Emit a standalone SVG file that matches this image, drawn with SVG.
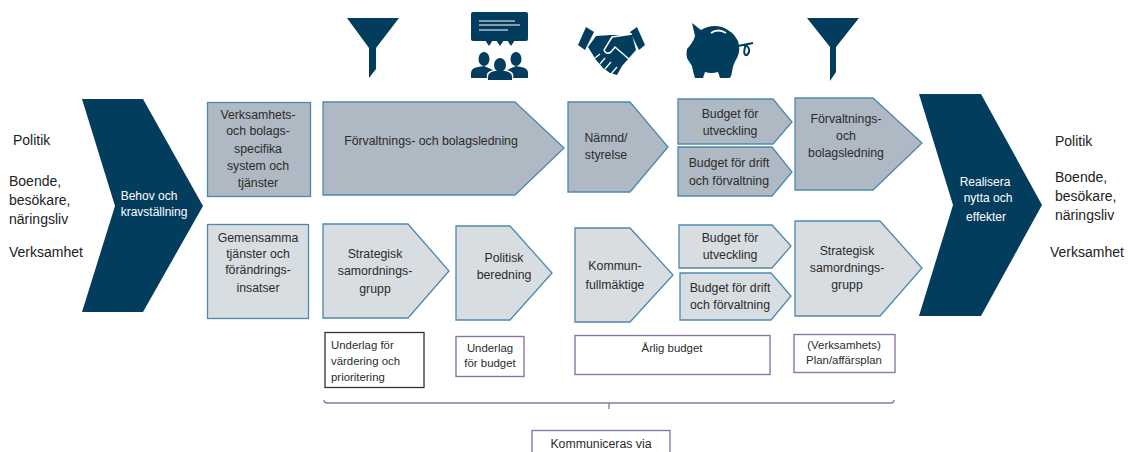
<svg xmlns="http://www.w3.org/2000/svg" width="1128" height="452" viewBox="0 0 1128 452">
<style>
text{font-family:"Liberation Sans",Arial,sans-serif;font-size:12.3px;fill:#2b2b2b;text-anchor:middle}
.side{font-size:14px;text-anchor:start;fill:#222}
.small{font-size:11.4px}
.w{fill:#fff;font-size:12px}
.dark{fill:#033d5e;stroke:none}
.mid{fill:#afb9c3;stroke:#4d89ae;stroke-width:1.3}
.light{fill:#d8dde2;stroke:#4d89ae;stroke-width:1.3}
.note{fill:#fff;stroke:#8878a8;stroke-width:1.4}
.ic{fill:#033d5e;stroke:none}
.icw{fill:none;stroke:#fff;stroke-width:1.5}
</style>
<g id="left-labels">
<text class="side" x="13" y="145">Politik</text>
<text class="side" x="9" y="186">Boende,</text>
<text class="side" x="9" y="205">besökare,</text>
<text class="side" x="9" y="224">näringsliv</text>
<text class="side" x="9" y="257">Verksamhet</text>
</g>
<g id="right-labels">
<text class="side" x="1055" y="146">Politik</text>
<text class="side" x="1055" y="182">Boende,</text>
<text class="side" x="1055" y="201">besökare,</text>
<text class="side" x="1055" y="220">näringsliv</text>
<text class="side" x="1050" y="257">Verksamhet</text>
</g>
<g id="icon-funnel-1"><path class="ic" d="M347 18H399L376 48V69L369 78V48Z"/></g>
<g id="icon-meeting">
<rect class="ic" x="471" y="12" width="57" height="29" rx="2"/>
<path class="ic" d="M485 40H493L489 46ZM496 40H504L500 46ZM507 40H515L511 46Z"/>
<path class="icw" style="stroke-width:1.2" d="M479 21H515M479 25H520M479 30H508"/>
<ellipse class="ic" cx="484" cy="59" rx="5.500" ry="7"/>
<ellipse class="ic" cx="516" cy="59" rx="5.500" ry="7"/>
<ellipse class="ic" cx="500" cy="65" rx="6" ry="7"/>
<path class="ic" d="M471 78V73Q471 68 478 67L484 66L493 70Q485 72 487 78Z"/>
<path class="ic" d="M528 78V73Q528 68 521 67L516 66L507 70Q515 72 513 78Z"/>
<path class="ic" d="M488 80V77Q488 72 495 71H505Q512 72 512 77V80Z"/>
</g>
<g id="icon-handshake">
<path class="ic" d="M578 45L586 27L594 32L585 50Z"/>
<path class="ic" d="M645 45L637 27L630 32L639 50Z"/>
<path class="ic" d="M588 47L596 36L611 35L632 35L636 50L622 66L617 75L610 73L603 68L596 60Z"/>
<path class="icw" d="M632 34L612 37L604 50Q606 55 611 52L615 47L630 60"/>
<path class="icw" style="stroke-width:1.2" d="M595 58L600 54M600 64L605 58M605 69L611 62M611 74L617 67"/>
</g>
<g id="icon-piggy">
<path class="ic" d="M692 23L701 30Q711 24 722 27Q733 31 738 41Q741 50 737 58Q733 64 732 72Q731 78 729 78H720L718 72Q711 74 705 72L703 78H695Q693 72 692 66Q688 60 687 58Q686 54 687 49Q690 46 691 44Q694 40 695 36Z"/>
<path class="icw" style="stroke-width:1.8" d="M711 33Q718 28 726 33"/>
<path fill="none" stroke="#033d5e" stroke-width="2" d="M738 46L753 43M746 44Q742 56 747 55Q752 50 746 45"/>
</g>
<g id="icon-funnel-2"><path class="ic" d="M807 18H859L836 47V72L830 81V47Z"/></g>
<g id="behov">
<polygon class="dark" points="82,99 143,99 203,206 143,312 82,312 115,206"/>
<text class="w" x="149" y="200">Behov och</text>
<text class="w" x="154" y="216">kravställning</text>
</g>
<g id="realisera">
<polygon class="dark" points="919,94 981,94 1042,205 981,316 919,316 953,205"/>
<text class="w" x="985" y="186">Realisera</text>
<text class="w" x="988" y="202">nytta och</text>
<text class="w" x="986" y="221">effekter</text>
</g>
<g id="system">
<rect class="mid" x="207.500" y="102.500" width="103" height="94"/>
<text x="258" y="119">Verksamhets-</text>
<text x="258" y="135">och bolags-</text>
<text x="258" y="153">specifika</text>
<text x="258" y="170">system och</text>
<text x="258" y="187">tjänster</text>
</g>
<g id="tjanster">
<rect class="light" x="207.500" y="224.500" width="101" height="94"/>
<text x="258" y="242">Gemensamma</text>
<text x="258" y="258">tjänster och</text>
<text x="258" y="274">förändrings-</text>
<text x="258" y="292">insatser</text>
</g>
<g id="ledning">
<polygon class="mid" points="323,102 515,102 564,148 515,195 323,195"/>
<text x="431" y="145">Förvaltnings- och bolagsledning</text>
</g>
<g id="namnd">
<polygon class="mid" points="568,102 630,102 668,147 630,192 568,192"/>
<text x="606" y="142">Nämnd/</text>
<text x="606" y="159">styrelse</text>
</g>
<g id="budget-utv-1">
<polygon class="mid" points="678,99 773,99 792,122 773,144 678,144"/>
<text x="730" y="118">Budget för</text>
<text x="730" y="135">utveckling</text>
</g>
<g id="budget-drift-1">
<polygon class="mid" points="678,147 772,147 792,172 772,196 678,196"/>
<text x="729" y="167">Budget för drift</text>
<text x="729" y="185">och förvaltning</text>
</g>
<g id="forvaltning-2">
<polygon class="mid" points="795,98 873,98 922,143 873,190 795,190"/>
<text x="846" y="123">Förvaltnings-</text>
<text x="846" y="140">och</text>
<text x="846" y="157">bolagsledning</text>
</g>
<g id="strategisk-1">
<polygon class="light" points="323,224 408,224 449,271 408,318 323,318"/>
<text x="375" y="258">Strategisk</text>
<text x="375" y="275">samordnings-</text>
<text x="375" y="293">grupp</text>
</g>
<g id="politisk">
<polygon class="light" points="456,226 510,226 552,273 510,320 456,320"/>
<text x="504" y="262">Politisk</text>
<text x="504" y="279">beredning</text>
</g>
<g id="kommun">
<polygon class="light" points="575,228 630,228 673,275 630,322 575,322"/>
<text x="615" y="270">Kommun-</text>
<text x="615" y="289">fullmäktige</text>
</g>
<g id="budget-utv-2">
<polygon class="light" points="679,225 772,225 791,246 772,268 679,268"/>
<text x="730" y="242">Budget för</text>
<text x="730" y="259">utveckling</text>
</g>
<g id="budget-drift-2">
<polygon class="light" points="680,273 771,273 791,296 771,320 680,320"/>
<text x="730" y="292">Budget för drift</text>
<text x="730" y="309">och förvaltning</text>
</g>
<g id="strategisk-2">
<polygon class="light" points="795,221 880,221 922,268 880,316 795,316"/>
<text x="847" y="255">Strategisk</text>
<text x="847" y="272">samordnings-</text>
<text x="847" y="289">grupp</text>
</g>
<g id="note-underlag-1">
<rect x="325" y="332.500" width="99" height="55" fill="#fff" stroke="#333" stroke-width="1.300"/>
<text class="small" x="331" y="349" style="text-anchor:start">Underlag för</text>
<text class="small" x="331" y="365" style="text-anchor:start">värdering och</text>
<text class="small" x="331" y="381" style="text-anchor:start">prioritering</text>
</g>
<g id="note-underlag-2">
<rect class="note" x="456" y="336.500" width="68" height="40"/>
<text class="small" x="490" y="352">Underlag</text>
<text class="small" x="490" y="367">för budget</text>
</g>
<g id="note-arlig">
<rect class="note" x="575" y="335.500" width="195" height="39"/>
<text class="small" x="672" y="352">Årlig budget</text>
</g>
<g id="note-plan">
<rect class="note" x="794" y="334.500" width="101" height="38"/>
<text class="small" x="844" y="349">(Verksamhets)</text>
<text class="small" x="844" y="364">Plan/affärsplan</text>
</g>
<g id="connectors">
<path fill="none" stroke="#8878a8" stroke-width="1.300" d="M324 400Q324 403 327 403H891Q894 403 894 400M609 403V409"/>
</g>
<g id="kommuniceras">
<rect class="note" x="532" y="430.500" width="138" height="30"/>
<text x="601" y="448">Kommuniceras via</text>
</g>
</svg>
